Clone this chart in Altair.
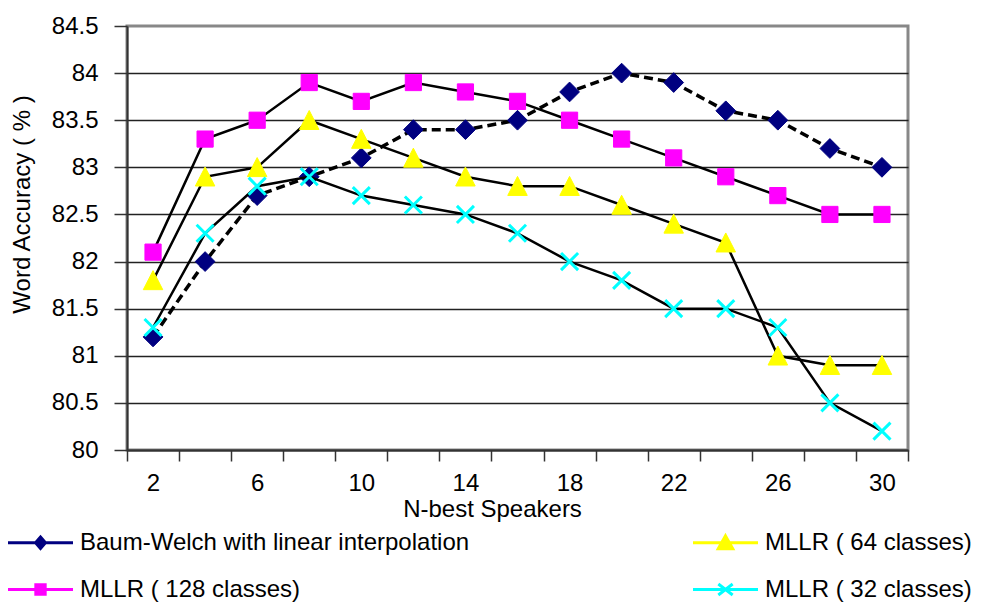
import altair as alt
import pandas as pd

# N-best speakers (x categories)
n_best = [2, 4, 6, 8, 10, 12, 14, 16, 18, 20, 22, 24, 26, 28, 30]

# Word accuracy (%) per adaptation method
baum_welch = [81.2, 82.0, 82.7, 82.9, 83.1, 83.4, 83.4, 83.5, 83.8, 84.0, 83.9, 83.6, 83.5, 83.2, 83.0]
mllr_128 = [82.1, 83.3, 83.5, 83.9, 83.7, 83.9, 83.8, 83.7, 83.5, 83.3, 83.1, 82.9, 82.7, 82.5, 82.5]
mllr_64 = [81.8, 82.9, 83.0, 83.5, 83.3, 83.1, 82.9, 82.8, 82.8, 82.6, 82.4, 82.2, 81.0, 80.9, 80.9]
mllr_32 = [81.3, 82.3, 82.8, 82.9, 82.7, 82.6, 82.5, 82.3, 82.0, 81.8, 81.5, 81.5, 81.3, 80.5, 80.2]

names = [
    "Baum-Welch with linear interpolation",
    "MLLR ( 128 classes)",
    "MLLR ( 64 classes)",
    "MLLR ( 32 classes)",
]
values = [baum_welch, mllr_128, mllr_64, mllr_32]

y_ticks = [80, 80.5, 81, 81.5, 82, 82.5, 83, 83.5, 84, 84.5]

rows = []
for name, vals in zip(names, values):
    for n, v in zip(n_best, vals):
        rows.append({"N": n, "series": name, "acc": v})
df = pd.DataFrame(rows)

FONT = "Liberation Sans"
X_PATH = "M-1,-1L1,1M-1,1L1,-1"
TRI_PATH = "M0,-1L1,0.95L-1,0.95Z"

# marker style for each series in the plot area
marker = {
    names[0]: dict(shape="diamond", fill="#000080", stroke="#000080", strokeWidth=1, size=390),
    names[1]: dict(shape="square", fill="#FF00FF", stroke="#FF00FF", strokeWidth=1, size=262),
    names[2]: dict(shape=TRI_PATH, fill="#FFFF00", stroke="#FFFF00", strokeWidth=1, size=380),
    names[3]: dict(shape=X_PATH, fill="#00FFFF", stroke="#00FFFF", strokeWidth=3, size=290),
}

# legend: colored line with the series marker on it (filled column by column)
legend_order = [names[0], names[1], names[2], names[3]]
legend_colors = ["#000080", "#FF00FF", "#FFFF00", "#00FFFF"]
legend_paths = [
    "M-2.5,0L2.5,0M0,-0.44L0.38,0L0,0.44L-0.38,0Z",
    "M-2.5,0L2.5,0M-0.36,-0.36L0.36,-0.36L0.36,0.36L-0.36,0.36Z",
    "M-2.5,0L2.5,0M0,-0.52L0.56,0.48L-0.56,0.48Z",
    "M-2.5,0L2.5,0M-0.55,-0.42L0.55,0.42M-0.55,0.42L0.55,-0.42",
]

x_enc = alt.X(
    "N:O",
    sort=n_best,
    bandPosition=0.5,
    scale=alt.Scale(type="band", paddingInner=0, paddingOuter=0),
    axis=alt.Axis(
        title="N-best Speakers",
        labelAngle=0,
        labelExpr="datum.value % 4 == 2 ? datum.label : ''",
        tickBand="extent",
        tickSize=11,
        labelPadding=10,
        titleX=365,
        titleY=59,
        titleAlign="center",
        titleBaseline="middle",
        grid=False,
    ),
)
y_enc = alt.Y(
    "acc:Q",
    scale=alt.Scale(domain=[80, 84.5], nice=False, zero=False),
    axis=alt.Axis(
        title="Word Accuracy ( % )",
        values=y_ticks,
        format=".1~f",
        tickSize=13,
        labelPadding=16,
        titleX=-105,
        titleY=178,
        titleAlign="center",
        titleBaseline="middle",
        grid=True,
        gridColor={"condition": {"test": "datum.value >= 84.5", "value": "transparent"}, "value": "#222222"},
    ),
)

base = alt.Chart(df).encode(x=x_enc, y=y_enc)

layers = []
for name in names:
    sub = base.transform_filter(alt.datum.series == name)
    if name == names[0]:
        line = sub.mark_line(color="black", strokeWidth=3.5, strokeDash=[9, 5])
    else:
        line = sub.mark_line(color="black", strokeWidth=2.5)
    m = marker[name]
    pts = sub.mark_point(
        shape=m["shape"], filled=True, fill=m["fill"], stroke=m["stroke"],
        strokeWidth=m["strokeWidth"], size=m["size"], opacity=1,
    )
    layers += [line, pts]

leg = alt.Legend(
    title=None,
    orient="none",
    legendX=-101,
    legendY=502,
    columns=2,
    columnPadding=217,
    rowPadding=20,
    symbolSize=676,
    symbolStrokeWidth=3,
    symbolOpacity=1,
    labelFont=FONT,
    labelFontSize=24,
    labelColor="black",
    labelLimit=0,
    labelOffset=25,
    padding=0,
)
legend_layer = base.mark_point(opacity=0, size=676, strokeWidth=3).encode(
    shape=alt.Shape("series:N", scale=alt.Scale(domain=legend_order, range=legend_paths), legend=leg),
    fill=alt.Fill("series:N", scale=alt.Scale(domain=legend_order, range=legend_colors), legend=leg),
    stroke=alt.Stroke("series:N", scale=alt.Scale(domain=legend_order, range=legend_colors), legend=leg),
)
layers.append(legend_layer)

chart = (
    alt.layer(*layers)
    .properties(
        width=781,
        height=424,
        autosize=alt.AutoSizeParams(type="none"),
        padding={"left": 127, "top": 26, "right": 75, "bottom": 155},
        background="white",
    )
    .configure_view(stroke="#888888", strokeWidth=3)
    .configure_axis(
        labelFont=FONT,
        labelFontSize=24,
        labelColor="black",
        titleFont=FONT,
        titleFontSize=24,
        titleFontWeight="normal",
        titleColor="black",
        domainColor="#333333",
        domainWidth=2,
        tickColor="#333333",
        tickWidth=1.5,
        gridWidth=1.3,
    )
)

chart.save("out.html", embed_options={"renderer": "svg", "actions": False})
